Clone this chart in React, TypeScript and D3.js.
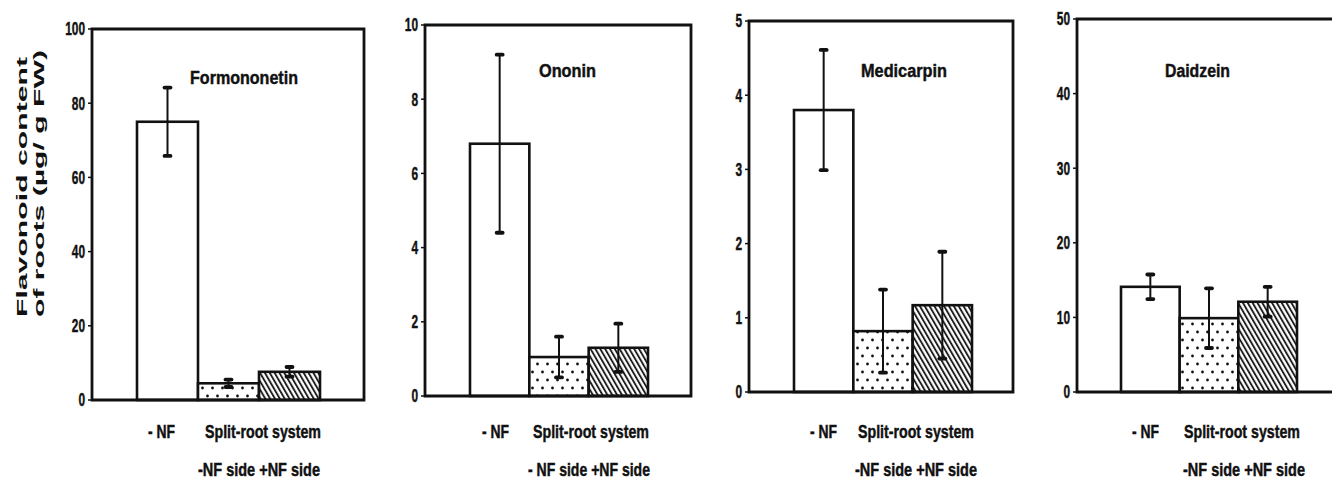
import React from 'react';
import * as d3 from 'd3';

// ---- data ----
const categories = ['-NF', '-NF side', '+NF side'];
const compounds = ['Formononetin', 'Ononin', 'Medicarpin', 'Daidzein'];
const yMax = [100, 10, 5, 50];

const formononetinMean = [75, 4.5, 7.6];
const formononetinErr = [9.2, 1.0, 1.3];
const ononinMean = [6.8, 1.05, 1.3];
const ononinErr = [2.4, 0.55, 0.65];
const medicarpinMean = [3.8, 0.82, 1.17];
const medicarpinErr = [0.81, 0.56, 0.72];
const daidzeinMean = [14.1, 9.9, 12.1];
const daidzeinErr = [1.65, 4.0, 2.0];

const means = [formononetinMean, ononinMean, medicarpinMean, daidzeinMean];
const errs = [formononetinErr, ononinErr, medicarpinErr, daidzeinErr];

const xLabelTop = ['- NF', 'Split-root system'];
const xLabelBottom = ['-NF side +NF side', '- NF side +NF side', '-NF side +NF side', '-NF side +NF side'];
const yTitle = ['Flavonoid content', 'of roots (\u00b5g/ g FW)'];

// ---- layout ----
const layout = [
  { axis: 92, right: 364, top: 29, bottom: 400, b0: 137, b1: 320, tx: 190, ty: 84, tw: 108, nfx: 148, spx: 205, sdx: 198 },
  { axis: 425, right: 691, top: 25, bottom: 396, b0: 470, b1: 648, tx: 539, ty: 77, tw: 57, nfx: 482, spx: 533, sdx: 528 },
  { axis: 749, right: 1013, top: 21, bottom: 392, b0: 794, b1: 972, tx: 861, ty: 77, tw: 86, nfx: 810, spx: 858, sdx: 855 },
  { axis: 1077, right: 1345, top: 19, bottom: 392, b0: 1121, b1: 1297, tx: 1165, ty: 77, tw: 65, nfx: 1132, spx: 1184, sdx: 1183 },
];

const FONT = '"Liberation Sans", Arial, Helvetica, sans-serif';
const INK = '#111';
const fills = ['#fff', 'url(#dots)', 'url(#hatch)'];
const SX = 0.8; // horizontal squeeze of the condensed lettering

function Squeezed({ x, y, w, size, children }: { x: number; y: number; w: number; size: number; children: string }) {
  return (
    <text transform={`translate(${x},${y}) scale(${SX},1)`} textLength={w / SX} lengthAdjust="spacingAndGlyphs"
      fontFamily={FONT} fontWeight="bold" fontSize={size} fill={INK} stroke={INK} strokeWidth={0.45}>{children}</text>
  );
}

function Panel({ i }: { i: number }) {
  const L = layout[i];
  const x = d3.scaleBand<string>().domain(categories).range([L.b0, L.b1]).padding(0);
  const y = d3.scaleLinear().domain([0, yMax[i]]).range([L.bottom, L.top]);
  const ticks = y.ticks(5);
  const bw = x.bandwidth();
  return (
    <g>
      {categories.map((c, k) => (
        <rect key={c} x={x(c)} y={y(means[i][k])} width={bw} height={y(0) - y(means[i][k])}
          fill={fills[k]} stroke={INK} strokeWidth={2.6} />
      ))}
      {categories.map((c, k) => {
        const cx = (x(c) as number) + bw / 2;
        const lo = y(Math.max(0, means[i][k] - errs[i][k]));
        const hi = y(means[i][k] + errs[i][k]);
        return (
          <g key={c} stroke={INK}>
            <line x1={cx} x2={cx} y1={lo} y2={hi} strokeWidth={2} />
            <line x1={cx - 3} x2={cx + 3} y1={hi} y2={hi} strokeWidth={3.8} strokeLinecap="round" />
            <line x1={cx - 3} x2={cx + 3} y1={lo} y2={lo} strokeWidth={3.8} strokeLinecap="round" />
          </g>
        );
      })}
      <path d={`M${L.axis},${L.top}H${L.right}V${L.bottom}H${L.axis}Z`} fill="none" stroke={INK} strokeWidth={2.8} />
      {ticks.map(t => (
        <g key={t}>
          <line x1={L.axis - 4} x2={L.axis} y1={y(t)} y2={y(t)} stroke={INK} strokeWidth={1.5} />
          <text transform={`translate(${L.axis - 7},${y(t)}) scale(0.66,1)`} dy="0.36em" textAnchor="end"
            fontFamily={FONT} fontWeight="bold" fontSize={18} fill={INK} stroke={INK} strokeWidth={0.45}>{t}</text>
        </g>
      ))}
      <Squeezed x={L.tx} y={L.ty} w={L.tw} size={19}>{compounds[i]}</Squeezed>
      <Squeezed x={L.nfx} y={438} w={27} size={18}>{xLabelTop[0]}</Squeezed>
      <Squeezed x={L.spx} y={438} w={116} size={18}>{xLabelTop[1]}</Squeezed>
      <Squeezed x={L.sdx} y={476} w={122} size={18}>{xLabelBottom[i]}</Squeezed>
    </g>
  );
}

export default function App() {
  return (
    <svg width={1332} height={486} style={{ position: 'absolute', left: 0, top: 0, background: '#fff' }}>
      <defs>
        <pattern id="dots" patternUnits="userSpaceOnUse" width={10} height={16}>
          <rect width={10} height={16} fill="#fff" />
          <circle cx={2.5} cy={4} r={1.4} fill={INK} />
          <circle cx={7.5} cy={12} r={1.4} fill={INK} />
        </pattern>
        <pattern id="hatch" patternUnits="userSpaceOnUse" width={4.2} height={10} patternTransform="rotate(-30)">
          <rect width={4.2} height={10} fill="#fff" />
          <line x1={1} x2={1} y1={0} y2={10} stroke={INK} strokeWidth={1.8} />
        </pattern>
      </defs>
      <rect width={1332} height={486} fill="#fff" />
      <text transform="translate(27,317) rotate(-90)" textLength={260} lengthAdjust="spacingAndGlyphs"
        fontFamily={FONT} fontWeight="bold" fontSize={15} fill={INK}>{yTitle[0]}</text>
      <text transform="translate(44,317) rotate(-90)" textLength={267} lengthAdjust="spacingAndGlyphs"
        fontFamily={FONT} fontWeight="bold" fontSize={15} fill={INK}>{yTitle[1]}</text>
      {compounds.map((c, i) => <Panel key={c} i={i} />)}
    </svg>
  );
}
